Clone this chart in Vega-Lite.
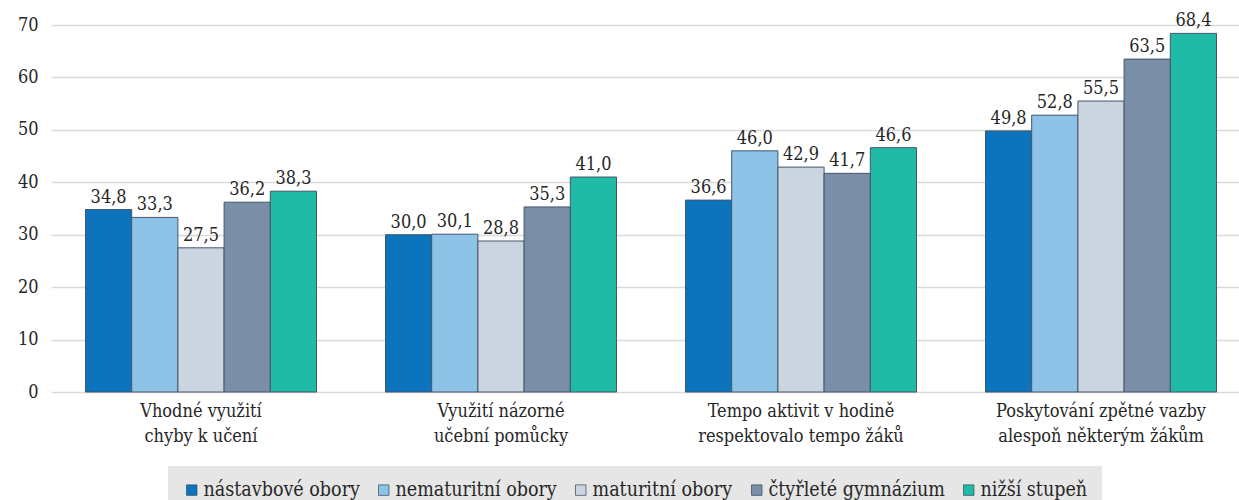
{
  "$schema": "https://vega.github.io/schema/vega-lite/v6.json",
  "width": 1200,
  "height": 367,
  "autosize": {"type": "none"},
  "padding": {"left": 51, "top": 25, "right": 0, "bottom": 108},
  "background": "white",
  "config": {
    "view": {"stroke": null},
    "locale": {"number": {"decimal": ",", "thousands": " ", "grouping": [3], "currency": ["", " Kč"]}}
  },
  "data": {
    "values": [
      {"kategorie": "Vhodné využití|chyby k učení", "skupina": "nástavbové obory", "hodnota": 34.8},
      {"kategorie": "Vhodné využití|chyby k učení", "skupina": "nematuritní obory", "hodnota": 33.3},
      {"kategorie": "Vhodné využití|chyby k učení", "skupina": "maturitní obory", "hodnota": 27.5},
      {"kategorie": "Vhodné využití|chyby k učení", "skupina": "čtyřleté gymnázium", "hodnota": 36.2},
      {"kategorie": "Vhodné využití|chyby k učení", "skupina": "nižší stupeň", "hodnota": 38.3},
      {"kategorie": "Využití názorné|učební pomůcky", "skupina": "nástavbové obory", "hodnota": 30.0},
      {"kategorie": "Využití názorné|učební pomůcky", "skupina": "nematuritní obory", "hodnota": 30.1},
      {"kategorie": "Využití názorné|učební pomůcky", "skupina": "maturitní obory", "hodnota": 28.8},
      {"kategorie": "Využití názorné|učební pomůcky", "skupina": "čtyřleté gymnázium", "hodnota": 35.3},
      {"kategorie": "Využití názorné|učební pomůcky", "skupina": "nižší stupeň", "hodnota": 41.0},
      {"kategorie": "Tempo aktivit v hodině|respektovalo tempo žáků", "skupina": "nástavbové obory", "hodnota": 36.6},
      {"kategorie": "Tempo aktivit v hodině|respektovalo tempo žáků", "skupina": "nematuritní obory", "hodnota": 46.0},
      {"kategorie": "Tempo aktivit v hodině|respektovalo tempo žáků", "skupina": "maturitní obory", "hodnota": 42.9},
      {"kategorie": "Tempo aktivit v hodině|respektovalo tempo žáků", "skupina": "čtyřleté gymnázium", "hodnota": 41.7},
      {"kategorie": "Tempo aktivit v hodině|respektovalo tempo žáků", "skupina": "nižší stupeň", "hodnota": 46.6},
      {"kategorie": "Poskytování zpětné vazby|alespoň některým žákům", "skupina": "nástavbové obory", "hodnota": 49.8},
      {"kategorie": "Poskytování zpětné vazby|alespoň některým žákům", "skupina": "nematuritní obory", "hodnota": 52.8},
      {"kategorie": "Poskytování zpětné vazby|alespoň některým žákům", "skupina": "maturitní obory", "hodnota": 55.5},
      {"kategorie": "Poskytování zpětné vazby|alespoň některým žákům", "skupina": "čtyřleté gymnázium", "hodnota": 63.5},
      {"kategorie": "Poskytování zpětné vazby|alespoň některým žákům", "skupina": "nižší stupeň", "hodnota": 68.4}
    ]
  },
  "encoding": {
    "x": {
      "field": "kategorie",
      "type": "nominal",
      "sort": null,
      "scale": {"paddingInner": 0.23, "paddingOuter": 0.115},
      "axis": {
        "title": null,
        "ticks": false,
        "domain": false,
        "labelAngle": 0,
        "labelExpr": "split(datum.label, '|')",
        "labelFont": "DejaVu Serif Condensed",
        "labelFontSize": 18,
        "labelColor": "#262626",
        "labelPadding": 10,
        "labelLineHeight": 25,
        "labelLimit": 0,
        "labelBaseline": "top"
      }
    },
    "xOffset": {
      "field": "skupina",
      "type": "nominal",
      "sort": ["nástavbové obory", "nematuritní obory", "maturitní obory", "čtyřleté gymnázium", "nižší stupeň"],
      "scale": {"paddingInner": 0, "paddingOuter": 0}
    },
    "y": {
      "field": "hodnota",
      "type": "quantitative",
      "scale": {"domain": [0, 70], "nice": false},
      "axis": {
        "title": null,
        "values": [0, 10, 20, 30, 40, 50, 60, 70],
        "ticks": false,
        "domain": false,
        "gridColor": "#D9D9D9",
        "gridWidth": 1.5,
        "labelFont": "DejaVu Serif Condensed",
        "labelFontSize": 18,
        "labelColor": "#262626",
        "labelPadding": 13
      }
    }
  },
  "layer": [
    {
      "mark": {"type": "bar", "stroke": "#44546A", "strokeWidth": 1},
      "encoding": {
        "color": {
          "field": "skupina",
          "type": "nominal",
          "scale": {
            "domain": ["nástavbové obory", "nematuritní obory", "maturitní obory", "čtyřleté gymnázium", "nižší stupeň"],
            "range": ["#0B74BC", "#8EC3E8", "#CBD5DF", "#7A8EA8", "#1FBBA6"]
          },
          "legend": {
            "title": null,
            "orient": "none",
            "legendX": 117,
            "legendY": 441,
            "direction": "horizontal",
            "columns": 5,
            "fillColor": "#E6E6E6",
            "padding": 14,
            "columnPadding": 14,
            "symbolType": "square",
            "symbolSize": 110,
            "symbolStrokeColor": "#44546A",
            "symbolStrokeWidth": 0.8,
            "symbolOpacity": 1,
            "labelFont": "DejaVu Serif Condensed",
            "labelFontSize": 19.5,
            "labelColor": "#262626",
            "labelOffset": 2,
            "labelLimit": 0
          }
        }
      }
    },
    {
      "mark": {"type": "text", "baseline": "bottom", "dy": -3, "font": "DejaVu Serif Condensed", "fontSize": 18, "color": "#262626"},
      "encoding": {
        "text": {"field": "hodnota", "type": "quantitative", "format": ".1f"}
      }
    }
  ]
}
